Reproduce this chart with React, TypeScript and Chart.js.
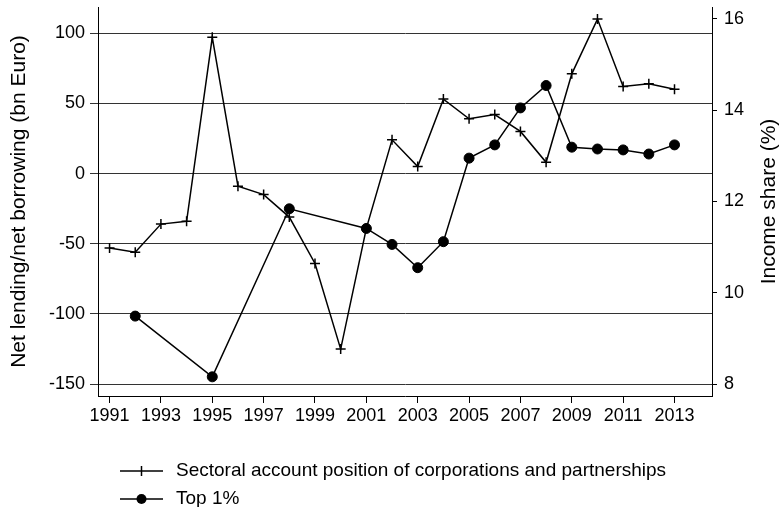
import { useEffect, useRef } from "react";
import { Chart, registerables } from "chart.js";

Chart.register(...registerables);

const years = [
  1991, 1992, 1993, 1994, 1995, 1996, 1997, 1998, 1999, 2000, 2001, 2002,
  2003, 2004, 2005, 2006, 2007, 2008, 2009, 2010, 2011, 2012, 2013,
];
const sectoral = [
  -53, -56, -36, -34, 97, -9, -15, -31, -64, -125, -39, 24,
  5, 53, 39, 42, 30, 8, 71, 110, 62, 64, 60,
];
const top1Years = [
  1992, 1995, 1998, 2001, 2002, 2003, 2004, 2005, 2006, 2007, 2008, 2009,
  2010, 2011, 2012, 2013,
];
const top1 = [
  9.49, 8.16, 11.84, 11.41, 11.06, 10.55, 11.12, 12.95, 13.24, 14.05, 14.54,
  13.19, 13.15, 13.13, 13.04, 13.24,
];
const leftTicks = [-150, -100, -50, 0, 50, 100];
const rightTicks = [8, 10, 12, 14, 16];
const yearTicks = [
  1991, 1993, 1995, 1997, 1999, 2001, 2003, 2005, 2007, 2009, 2011, 2013,
];

const seriesLabels = [
  "Sectoral account position of corporations and partnerships",
  "Top 1%",
];
const leftTitle = "Net lending/net borrowing (bn Euro)";
const rightTitle = "Income share (%)";

const FONT = '"Liberation Sans", Arial, sans-serif';
const TICK_SIZE = 18;
const TITLE_SIZE = 21;
const LEGEND_SIZE = 19;
const GRID = "#333";

const overlay = {
  id: "overlay",
  afterDraw(chart: any) {
    const { ctx, chartArea } = chart;
    const midY = (chartArea.top + chartArea.bottom) / 2;
    ctx.save();
    ctx.fillStyle = "#000";
    ctx.textAlign = "center";
    ctx.textBaseline = "middle";

    // axis titles, both reading bottom-to-top
    ctx.font = `${TITLE_SIZE}px ${FONT}`;
    ctx.save();
    ctx.translate(19, midY);
    ctx.rotate(-Math.PI / 2);
    ctx.fillText(leftTitle, 0, 0);
    ctx.restore();

    ctx.save();
    ctx.translate(769, midY);
    ctx.rotate(-Math.PI / 2);
    ctx.fillText(rightTitle, 0, 0);
    ctx.restore();

    // legend, stacked rows under the axis
    ctx.font = `${LEGEND_SIZE}px ${FONT}`;
    const rows = [471, 499];
    const x0 = 120;
    const x1 = 163;
    const cx = (x0 + x1) / 2;
    ctx.strokeStyle = "#000";
    ctx.lineWidth = 1.5;
    rows.forEach((y, i) => {
      ctx.beginPath();
      ctx.moveTo(x0, y);
      ctx.lineTo(x1, y);
      ctx.stroke();
      if (i === 0) {
        ctx.beginPath();
        ctx.moveTo(cx, y - 5);
        ctx.lineTo(cx, y + 5);
        ctx.stroke();
      } else {
        ctx.beginPath();
        ctx.arc(cx, y, 5, 0, Math.PI * 2);
        ctx.fill();
      }
      ctx.textAlign = "left";
      ctx.fillText(seriesLabels[i], 176, y);
    });
    ctx.restore();
  },
};

const noPad = (s: any) => {
  s.paddingTop = 0;
  s.paddingBottom = 0;
  s.paddingLeft = 0;
  s.paddingRight = 0;
};

export default function App() {
  const ref = useRef<HTMLCanvasElement>(null);

  useEffect(() => {
    if (!ref.current) return;
    const chart = new Chart(ref.current, {
      type: "line",
      data: {
        datasets: [
          {
            label: seriesLabels[0],
            data: years.map((x, i) => ({ x, y: sectoral[i] })),
            yAxisID: "yLeft",
            borderColor: "#000",
            backgroundColor: "#000",
            borderWidth: 1.5,
            pointStyle: "cross",
            pointRadius: 5,
            pointBorderWidth: 1.5,
            tension: 0,
          },
          {
            label: seriesLabels[1],
            data: top1Years.map((x, i) => ({ x, y: top1[i] })),
            yAxisID: "yRight",
            borderColor: "#000",
            backgroundColor: "#000",
            borderWidth: 1.5,
            pointStyle: "circle",
            pointRadius: 5,
            pointBorderWidth: 1,
            tension: 0,
          },
        ],
      },
      options: {
        responsive: false,
        animation: false,
        layout: { padding: { top: 7, left: 0, right: 0, bottom: 0 } },
        plugins: {
          legend: { display: false },
          tooltip: { enabled: false },
        },
        scales: {
          x: {
            type: "linear",
            min: 1990.55,
            max: 2014.46,
            afterBuildTicks: (s: any) => {
              s.ticks = yearTicks.map((value) => ({ value }));
            },
            afterFit: (s: any) => {
              s.height = 111;
              noPad(s);
            },
            grid: {
              drawOnChartArea: false,
              drawTicks: true,
              tickLength: 7,
              color: "#000",
              lineWidth: 1,
            },
            border: { display: true, color: "#000", width: 1 },
            ticks: {
              color: "#000",
              font: { family: FONT, size: TICK_SIZE },
              padding: 2,
              maxRotation: 0,
              autoSkip: false,
              callback: (v: any) => String(v),
            },
          },
          yLeft: {
            type: "linear",
            position: "left",
            min: -158.4,
            max: 118.6,
            afterBuildTicks: (s: any) => {
              s.ticks = leftTicks.map((value) => ({ value }));
            },
            afterFit: (s: any) => {
              s.width = 98;
              noPad(s);
            },
            grid: {
              drawOnChartArea: true,
              drawTicks: true,
              tickLength: 8,
              color: GRID,
              lineWidth: 1,
            },
            border: { display: true, color: "#000", width: 1 },
            ticks: {
              color: "#000",
              font: { family: FONT, size: TICK_SIZE },
              padding: 5,
              callback: (v: any) => String(v),
            },
          },
          yRight: {
            type: "linear",
            position: "right",
            min: 7.74,
            max: 16.26,
            afterBuildTicks: (s: any) => {
              s.ticks = rightTicks.map((value) => ({ value }));
            },
            afterFit: (s: any) => {
              s.width = 70;
              noPad(s);
            },
            grid: {
              drawOnChartArea: false,
              drawTicks: true,
              tickLength: 5,
              color: "#000",
              lineWidth: 1,
            },
            border: { display: true, color: "#000", width: 1 },
            ticks: {
              color: "#000",
              font: { family: FONT, size: TICK_SIZE },
              padding: 7,
              callback: (v: any) => String(v),
            },
          },
        },
      },
      plugins: [overlay],
    });
    return () => chart.destroy();
  }, []);

  return (
    <div
      style={{
        position: "absolute",
        left: 0,
        top: 0,
        width: 782,
        height: 507,
        background: "#fff",
      }}
    >
      <canvas ref={ref} width={782} height={507} />
    </div>
  );
}
